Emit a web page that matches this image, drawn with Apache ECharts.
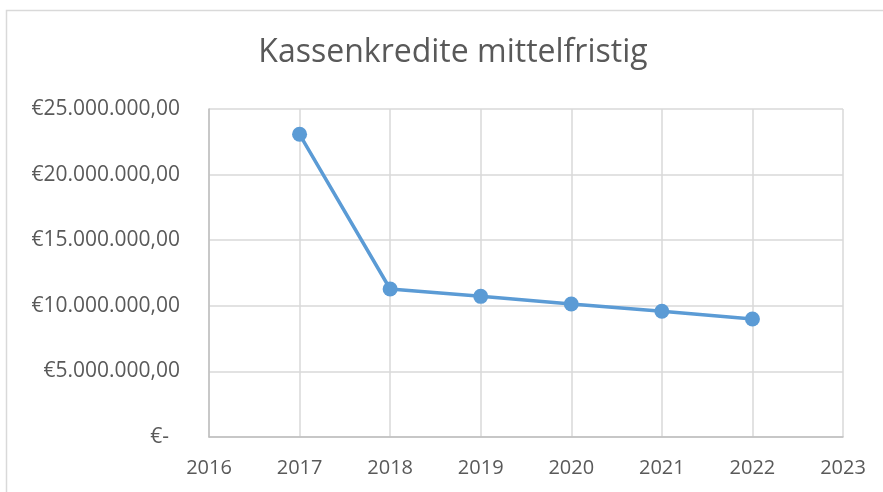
<!DOCTYPE html>
<html>
<head>
<meta charset="utf-8">
<script src="https://cdn.jsdelivr.net/npm/echarts@6/dist/echarts.min.js"></script>
<style>
  html, body { margin: 0; padding: 0; background: #fff; }
  #chart { width: 883px; height: 492px; }
</style>
</head>
<body>
<div id="chart"></div>
<script>
// Jahre und Kassenkredite (mittelfristig) in Euro
const years = [2017, 2018, 2019, 2020, 2021, 2022];
const amounts = [23070000, 11280000, 10720000, 10140000, 9580000, 8990000];
const chartTitle = 'Kassenkredite mittelfristig';
const yearMin = 2016, yearMax = 2023;
const euroMax = 25000000, euroStep = 5000000;

function euro(v) {
  if (v === 0) return '€-  ';
  const parts = Math.round(v).toString().replace(/\B(?=(\d{3})+(?!\d))/g, '.');
  return '€' + parts + ',00';
}

const FONT = '"Open Sans", "Noto Sans", sans-serif';
const chart = echarts.init(document.getElementById('chart'), null, { renderer: 'canvas' });

chart.setOption({
  backgroundColor: '#ffffff',
  animation: false,
  graphic: [{
    type: 'rect',
    shape: { x: 6.5, y: 10.5, width: 1000, height: 1000 },
    style: { fill: 'none', stroke: '#d9d9d9', lineWidth: 1.5 },
    silent: true
  }],
  title: {
    text: chartTitle,
    left: 448,
    top: 32,
    textAlign: 'center',
    textStyle: { fontFamily: FONT, fontSize: 32, fontWeight: 'normal', color: '#595959' }
  },
  grid: { left: 209, right: 40, top: 109, bottom: 55, containLabel: false },
  xAxis: {
    type: 'value',
    min: yearMin,
    max: yearMax,
    interval: 1,
    axisLine: { show: true, lineStyle: { color: '#bfbfbf', width: 1.5 } },
    axisTick: { show: false },
    splitLine: { show: true, lineStyle: { color: '#d9d9d9', width: 1.5 } },
    axisLabel: {
      margin: 21,
      fontFamily: FONT, fontSize: 20, color: '#595959',
      formatter: v => String(v)
    }
  },
  yAxis: {
    type: 'value',
    min: 0,
    max: euroMax,
    interval: euroStep,
    axisLine: { show: true, lineStyle: { color: '#bfbfbf', width: 1.5 } },
    axisTick: { show: false },
    splitLine: { show: true, lineStyle: { color: '#d9d9d9', width: 1.5 } },
    axisLabel: {
      margin: 29,
      fontFamily: FONT, fontSize: 21, color: '#595959',
      formatter: euro
    }
  },
  series: [{
    type: 'line',
    data: years.map((y, i) => [y, amounts[i]]),
    symbol: 'circle',
    symbolSize: 15,
    lineStyle: { color: '#5b9bd5', width: 3.5 },
    itemStyle: { color: '#5b9bd5' }
  }]
});
</script>
</body>
</html>
